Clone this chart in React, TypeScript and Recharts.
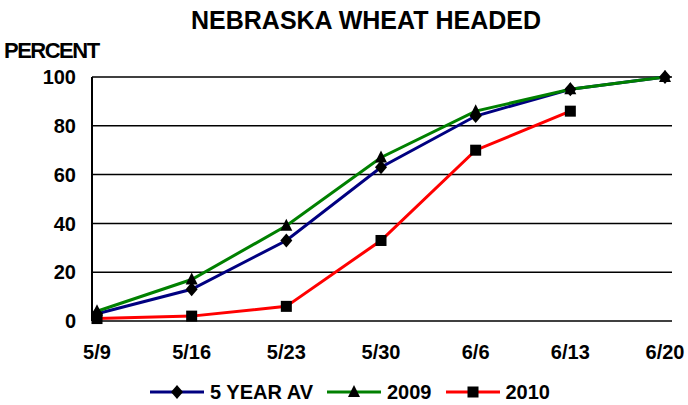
import { LineChart, Line, XAxis, YAxis, CartesianGrid, Legend } from "recharts";

const weeks = ["5/9", "5/16", "5/23", "5/30", "6/6", "6/13", "6/20"];
const fiveYearAvg = [3, 13, 33, 63, 84, 95, 100];
const y2009 = [4, 17, 39, 67, 86, 95, 100];
const y2010 = [1, 2, 6, 33, 70, 86, null];
const yTicks = [0, 20, 40, 60, 80, 100];

const data = weeks.map((week, i) => ({
    week,
    avg: fiveYearAvg[i],
    y2009: y2009[i],
    y2010: y2010[i],
}));

const FONT = "'Liberation Sans', Arial, sans-serif";

const Diamond = (props: any) => {
    const { cx, cy } = props;
    if (cx == null || cy == null) return null;
    return <polygon points={`${cx},${cy - 7} ${cx + 6},${cy} ${cx},${cy + 7} ${cx - 6},${cy}`} fill="#000" />;
};

const Triangle = (props: any) => {
    const { cx, cy } = props;
    if (cx == null || cy == null) return null;
    return <polygon points={`${cx},${cy - 7} ${cx + 6},${cy + 5} ${cx - 6},${cy + 5}`} fill="#000" />;
};

const Square = (props: any) => {
    const { cx, cy } = props;
    if (cx == null || cy == null) return null;
    return <rect x={cx - 5.5} y={cy - 5.5} width={11} height={11} fill="#000" />;
};

const legendItems = [
    { label: "5 YEAR AV", color: "#000080", marker: Diamond },
    { label: "2009", color: "#008000", marker: Triangle },
    { label: "2010", color: "#FF0000", marker: Square },
];

const LegendContent = () => (
    <div
        style={{
            height: 30,
            boxSizing: "border-box",
            paddingTop: 6,
            paddingLeft: 26,
            display: "flex",
            justifyContent: "center",
            alignItems: "flex-start",
            fontFamily: FONT,
            fontWeight: "bold",
            fontSize: 20,
            color: "#000",
        }}
    >
        {legendItems.map((item) => {
            const M = item.marker;
            return (
                <div key={item.label} style={{ display: "flex", alignItems: "center", marginRight: 14, height: 22 }}>
                    <svg width={54} height={18}>
                        <line x1={0} y1={9} x2={54} y2={9} stroke={item.color} strokeWidth={3} />
                        <M cx={27} cy={9} />
                    </svg>
                    <span style={{ marginLeft: 6, lineHeight: "22px" }}>{item.label}</span>
                </div>
            );
        })}
    </div>
);

export default function App() {
    return (
        <div style={{ position: "absolute", left: 0, top: 0, width: 688, height: 405, background: "#fff" }}>
            <div
                style={{
                    position: "absolute",
                    left: 0,
                    top: 8,
                    width: 732,
                    textAlign: "center",
                    fontFamily: FONT,
                    fontWeight: "bold",
                    fontSize: 25,
                    lineHeight: "25px",
                }}
            >
                NEBRASKA WHEAT HEADED
            </div>
            <div
                style={{
                    position: "absolute",
                    left: 4,
                    top: 40,
                    fontFamily: FONT,
                    fontWeight: "bold",
                    fontSize: 22,
                    lineHeight: "22px",
                    letterSpacing: -1.5,
                }}
            >
                PERCENT
            </div>
            <LineChart width={688} height={405} data={data} margin={{ top: 77, right: 16, bottom: 0, left: 0 }}>
                <CartesianGrid vertical={false} stroke="#000" strokeWidth={1.5} />
                <XAxis
                    dataKey="week"
                    height={54}
                    padding={{ left: 5, right: 7 }}
                    axisLine={false}
                    tickLine={false}
                    tickSize={0}
                    tickMargin={24}
                    interval={0}
                    tick={{ fill: "#000", fontSize: 20, fontWeight: "bold", fontFamily: FONT }}
                />
                <YAxis
                    width={92}
                    domain={[0, 100]}
                    ticks={yTicks}
                    axisLine={{ stroke: "#000", strokeWidth: 2 }}
                    tickLine={false}
                    tickSize={0}
                    tickMargin={16}
                    tick={{ fill: "#000", fontSize: 20, fontWeight: "bold", fontFamily: FONT }}
                />
                <YAxis
                    yAxisId="right"
                    orientation="right"
                    width={0}
                    domain={[0, 100]}
                    ticks={yTicks}
                    tick={false}
                    tickLine={false}
                    axisLine={{ stroke: "#000", strokeWidth: 2 }}
                />
                <Legend verticalAlign="bottom" wrapperStyle={{ left: 0, width: 688 }} content={<LegendContent />} />
                <Line
                    dataKey="avg"
                    name="5 YEAR AV"
                    stroke="#000080"
                    strokeWidth={3}
                    dot={<Diamond />}
                    activeDot={false}
                    isAnimationActive={false}
                />
                <Line
                    dataKey="y2009"
                    name="2009"
                    stroke="#008000"
                    strokeWidth={3}
                    dot={<Triangle />}
                    activeDot={false}
                    isAnimationActive={false}
                />
                <Line
                    dataKey="y2010"
                    name="2010"
                    stroke="#FF0000"
                    strokeWidth={3}
                    dot={<Square />}
                    activeDot={false}
                    isAnimationActive={false}
                />
            </LineChart>
        </div>
    );
}
